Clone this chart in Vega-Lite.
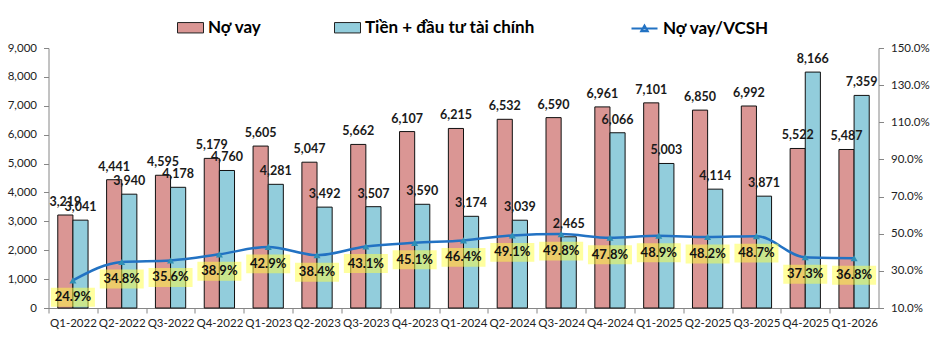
{
  "$schema": "https://vega.github.io/schema/vega-lite/v6.json",
  "width": 830,
  "height": 260,
  "autosize": {"type": "none"},
  "padding": {"left": 48.5, "top": 48, "right": 62.5, "bottom": 37},
  "background": "white",
  "config": {
    "view": {"stroke": null},
    "font": "Lato",
    "axis": {
      "domainColor": "#868686",
      "tickColor": "#868686",
      "labelColor": "#222222",
      "labelFont": "Lato",
      "labelFontSize": 11.5,
      "grid": false,
      "title": null,
      "tickSize": 5
    }
  },
  "datasets": {
    "bars": [
      {"q": "Q1-2022", "series": "Nợ vay", "value": 3219},
      {"q": "Q1-2022", "series": "Tiền + đầu tư tài chính", "value": 3041},
      {"q": "Q2-2022", "series": "Nợ vay", "value": 4441},
      {"q": "Q2-2022", "series": "Tiền + đầu tư tài chính", "value": 3940},
      {"q": "Q3-2022", "series": "Nợ vay", "value": 4595},
      {"q": "Q3-2022", "series": "Tiền + đầu tư tài chính", "value": 4178},
      {"q": "Q4-2022", "series": "Nợ vay", "value": 5179},
      {"q": "Q4-2022", "series": "Tiền + đầu tư tài chính", "value": 4760},
      {"q": "Q1-2023", "series": "Nợ vay", "value": 5605},
      {"q": "Q1-2023", "series": "Tiền + đầu tư tài chính", "value": 4281},
      {"q": "Q2-2023", "series": "Nợ vay", "value": 5047},
      {"q": "Q2-2023", "series": "Tiền + đầu tư tài chính", "value": 3492},
      {"q": "Q3-2023", "series": "Nợ vay", "value": 5662},
      {"q": "Q3-2023", "series": "Tiền + đầu tư tài chính", "value": 3507},
      {"q": "Q4-2023", "series": "Nợ vay", "value": 6107},
      {"q": "Q4-2023", "series": "Tiền + đầu tư tài chính", "value": 3590},
      {"q": "Q1-2024", "series": "Nợ vay", "value": 6215},
      {"q": "Q1-2024", "series": "Tiền + đầu tư tài chính", "value": 3174},
      {"q": "Q2-2024", "series": "Nợ vay", "value": 6532},
      {"q": "Q2-2024", "series": "Tiền + đầu tư tài chính", "value": 3039},
      {"q": "Q3-2024", "series": "Nợ vay", "value": 6590},
      {"q": "Q3-2024", "series": "Tiền + đầu tư tài chính", "value": 2465},
      {"q": "Q4-2024", "series": "Nợ vay", "value": 6961},
      {"q": "Q4-2024", "series": "Tiền + đầu tư tài chính", "value": 6066},
      {"q": "Q1-2025", "series": "Nợ vay", "value": 7101},
      {"q": "Q1-2025", "series": "Tiền + đầu tư tài chính", "value": 5003},
      {"q": "Q2-2025", "series": "Nợ vay", "value": 6850},
      {"q": "Q2-2025", "series": "Tiền + đầu tư tài chính", "value": 4114},
      {"q": "Q3-2025", "series": "Nợ vay", "value": 6992},
      {"q": "Q3-2025", "series": "Tiền + đầu tư tài chính", "value": 3871},
      {"q": "Q4-2025", "series": "Nợ vay", "value": 5522},
      {"q": "Q4-2025", "series": "Tiền + đầu tư tài chính", "value": 8166},
      {"q": "Q1-2026", "series": "Nợ vay", "value": 5487},
      {"q": "Q1-2026", "series": "Tiền + đầu tư tài chính", "value": 7359}
    ],
    "ratio": [
      {"q": "Q1-2022", "ratio": 0.249},
      {"q": "Q2-2022", "ratio": 0.348},
      {"q": "Q3-2022", "ratio": 0.356},
      {"q": "Q4-2022", "ratio": 0.389},
      {"q": "Q1-2023", "ratio": 0.429},
      {"q": "Q2-2023", "ratio": 0.384},
      {"q": "Q3-2023", "ratio": 0.431},
      {"q": "Q4-2023", "ratio": 0.451},
      {"q": "Q1-2024", "ratio": 0.464},
      {"q": "Q2-2024", "ratio": 0.491},
      {"q": "Q3-2024", "ratio": 0.498},
      {"q": "Q4-2024", "ratio": 0.478},
      {"q": "Q1-2025", "ratio": 0.489},
      {"q": "Q2-2025", "ratio": 0.482},
      {"q": "Q3-2025", "ratio": 0.487},
      {"q": "Q4-2025", "ratio": 0.373},
      {"q": "Q1-2026", "ratio": 0.368}
    ]
  },
  "encoding": {
    "x": {
      "field": "q",
      "type": "nominal",
      "sort": null,
      "scale": {"paddingInner": 0.38, "paddingOuter": 0.19},
      "axis": {
        "labelAngle": 0,
        "tickOffset": -24.41,
        "labelOffset": 24.41,
        "labelPadding": 4
      }
    }
  },
  "layer": [
    {
      "data": {"name": "bars"},
      "encoding": {
        "xOffset": {"field": "series", "type": "nominal", "sort": ["Nợ vay", "Tiền + đầu tư tài chính"]},
        "y": {
          "field": "value",
          "type": "quantitative",
          "scale": {"domain": [0, 9000], "nice": false},
          "axis": {"orient": "left", "values": [0, 1000, 2000, 3000, 4000, 5000, 6000, 7000, 8000, 9000], "format": ",.0f", "labelPadding": 7}
        }
      },
      "layer": [
        {
          "mark": {"type": "bar", "stroke": "#111111", "strokeWidth": 1},
          "encoding": {
            "color": {
              "field": "series",
              "type": "nominal",
              "scale": {
                "domain": ["Nợ vay", "Tiền + đầu tư tài chính"],
                "range": ["#DA9694", "#92CDDC"]
              },
              "legend": {
                "title": null,
                "orient": "none",
                "direction": "horizontal",
                "legendX": 128.5,
                "legendY": -34,
                "padding": 0,
                "columnPadding": 70,
                "labelFont": "Lato",
                "labelFontSize": 17,
                "labelFontWeight": "bold",
                "labelColor": "#000000",
                "labelOffset": 4,
                "labelLimit": 500,
                "symbolSize": 676,
                "symbolType": "M-1,-0.4H1V0.4H-1Z",
                "symbolStrokeColor": "#222222",
                "symbolStrokeWidth": 1
              }
            }
          }
        },
        {
          "mark": {"type": "text", "font": "Lato", "fontSize": 12.5, "fontWeight": "bold", "color": "#1a1a1a", "baseline": "middle", "dy": -13},
          "encoding": {
            "text": {"field": "value", "type": "quantitative", "format": ","}
          }
        }
      ]
    },
    {
      "data": {"name": "ratio"},
      "encoding": {
        "y": {
          "field": "ratio",
          "type": "quantitative",
          "scale": {"domain": [0.1, 1.5], "nice": false, "zero": false},
          "axis": {"orient": "right", "values": [0.1, 0.3, 0.5, 0.7, 0.9, 1.1, 1.3, 1.5], "format": ".1%", "labelPadding": 7}
        }
      },
      "layer": [
        {
          "mark": {"type": "line", "interpolate": "monotone", "strokeWidth": 2.5, "color": "#2272C3"},
          "encoding": {}
        },
        {
          "mark": {"type": "point", "shape": "triangle-up", "filled": true, "color": "#2F8FB5", "opacity": 1, "size": 50}
        },
        {
          "mark": {"type": "point", "filled": false, "color": "#2272C3", "strokeWidth": 2.2, "opacity": 0, "size": 676},
          "encoding": {
            "shape": {
              "datum": "Nợ vay/VCSH",
              "type": "nominal",
              "scale": {"domain": ["Nợ vay/VCSH"], "range": ["M-1,0H1M-0.24,0.2L0,-0.22L0.24,0.2Z"]},
              "legend": {
                "title": null,
                "orient": "none",
                "direction": "horizontal",
                "legendX": 581.5,
                "legendY": -34,
                "padding": 0,
                "labelFont": "Lato",
                "labelFontSize": 17,
                "labelFontWeight": "bold",
                "labelColor": "#000000",
                "labelOffset": 4,
                "labelLimit": 500,
                "symbolSize": 676,
                "symbolOpacity": 1,
                "symbolStrokeColor": "#2272C3",
                "symbolStrokeWidth": 2.2
              }
            }
          }
        },
        {
          "mark": {"type": "point", "shape": "M-1,-0.43H1V0.43H-1Z", "filled": true, "color": "#FFFF40", "opacity": 0.5, "size": 1936, "yOffset": 17}
        },
        {
          "mark": {"type": "text", "font": "Lato", "fontSize": 13, "fontWeight": "bold", "color": "#111111", "baseline": "middle", "yOffset": 17},
          "encoding": {
            "text": {"field": "ratio", "type": "quantitative", "format": ".1%"}
          }
        }
      ]
    }
  ],
  "resolve": {"scale": {"y": "independent"}}
}
